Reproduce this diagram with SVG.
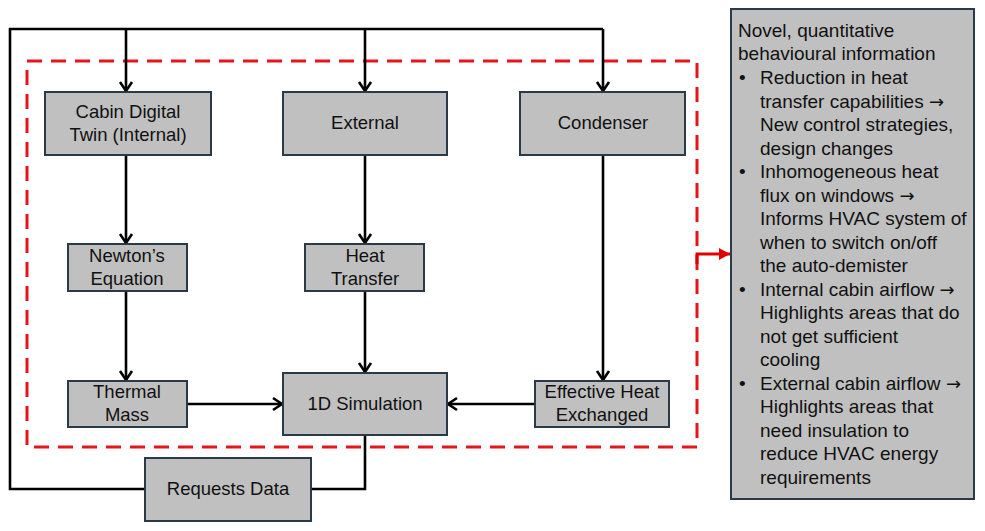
<svg xmlns="http://www.w3.org/2000/svg" width="985" height="531" viewBox="0 0 985 531">
<style>
.box{fill:#c0c0c0;stroke:#2b3a48;stroke-width:2}
.t{font-family:"Liberation Sans",Arial,sans-serif;font-size:18.5px;fill:#111;text-anchor:middle}
.r{font-family:"Liberation Sans",Arial,sans-serif;font-size:19px;fill:#111}
.a{font-family:"DejaVu Sans",sans-serif;font-size:18px}
.ln{fill:none;stroke:#000;stroke-width:2.6}
</style>
<defs>
<marker id="ah" markerUnits="userSpaceOnUse" markerWidth="16" markerHeight="16" refX="12" refY="8" orient="auto">
<polyline points="3,2 12,8 3,14" fill="none" stroke="#000" stroke-width="2.6"/>
</marker>
<marker id="rh" markerUnits="userSpaceOnUse" markerWidth="14" markerHeight="14" refX="12" refY="7" orient="auto">
<polygon points="1,1 12,7 1,13" fill="#e00000"/>
</marker>
</defs>
<rect x="27" y="61" width="670" height="386" fill="none" stroke="#e8141a" stroke-width="3" stroke-dasharray="15 9"/>
<g id="connectors">
<polyline class="ln" points="145,489 10,489 10,29 603,29"/>
<line class="ln" x1="126" y1="29" x2="126" y2="91" marker-end="url(#ah)"/>
<line class="ln" x1="365" y1="29" x2="365" y2="91" marker-end="url(#ah)"/>
<line class="ln" x1="603" y1="29" x2="603" y2="91" marker-end="url(#ah)"/>
<line class="ln" x1="126" y1="155" x2="126" y2="243" marker-end="url(#ah)"/>
<line class="ln" x1="365" y1="155" x2="365" y2="243" marker-end="url(#ah)"/>
<line class="ln" x1="126" y1="291" x2="126" y2="380" marker-end="url(#ah)"/>
<line class="ln" x1="365" y1="291" x2="365" y2="372" marker-end="url(#ah)"/>
<line class="ln" x1="603" y1="155" x2="603" y2="380" marker-end="url(#ah)"/>
<line class="ln" x1="187" y1="404" x2="282" y2="404" marker-end="url(#ah)"/>
<line class="ln" x1="535" y1="404" x2="448" y2="404" marker-end="url(#ah)"/>
<polyline class="ln" points="365,435 365,489 311,489"/>
<polyline points="697,264 697,254 730,254" fill="none" stroke="#e00000" stroke-width="3" marker-end="url(#rh)"/>
</g>
<g id="cabin"><rect class="box" x="45" y="92" width="166" height="63"/><text class="t" x="128" y="118">Cabin Digital</text><text class="t" x="128" y="141">Twin (Internal)</text></g>
<g id="external"><rect class="box" x="283" y="92" width="164" height="63"/><text class="t" x="365" y="129">External</text></g>
<g id="condenser"><rect class="box" x="520" y="92" width="165" height="63"/><text class="t" x="603" y="129">Condenser</text></g>
<g id="newton"><rect class="box" x="68" y="244" width="119" height="47"/><text class="t" x="127" y="262">Newton’s</text><text class="t" x="127" y="285">Equation</text></g>
<g id="heat"><rect class="box" x="305" y="244" width="119" height="47"/><text class="t" x="365" y="262">Heat</text><text class="t" x="365" y="285">Transfer</text></g>
<g id="thermal"><rect class="box" x="68" y="381" width="119" height="46"/><text class="t" x="127" y="398">Thermal</text><text class="t" x="127" y="421">Mass</text></g>
<g id="sim"><rect class="box" x="283" y="373" width="164" height="62"/><text class="t" x="365" y="410">1D Simulation</text></g>
<g id="effective"><rect class="box" x="535" y="381" width="134" height="46"/><text class="t" x="602" y="398">Effective Heat</text><text class="t" x="602" y="421">Exchanged</text></g>
<g id="requests"><rect class="box" x="145" y="458" width="166" height="63"/><text class="t" x="228" y="495">Requests Data</text></g>
<g id="info">
<rect class="box" x="731" y="9" width="243" height="490"/>
<text class="r" x="738" y="37">Novel, quantitative</text>
<text class="r" x="738" y="60">behavioural information</text>
<text class="r" x="739" y="84">•</text><text class="r" x="760" y="84">Reduction in heat</text>
<text class="r" x="760" y="108">transfer capabilities <tspan class="a">→</tspan></text>
<text class="r" x="760" y="131">New control strategies,</text>
<text class="r" x="760" y="155">design changes</text>
<text class="r" x="739" y="178">•</text><text class="r" x="760" y="178">Inhomogeneous heat</text>
<text class="r" x="760" y="202">flux on windows <tspan class="a">→</tspan></text>
<text class="r" x="760" y="225">Informs HVAC system of</text>
<text class="r" x="760" y="249">when to switch on/off</text>
<text class="r" x="760" y="272">the auto-demister</text>
<text class="r" x="739" y="296">•</text><text class="r" x="760" y="296">Internal cabin airflow <tspan class="a">→</tspan></text>
<text class="r" x="760" y="319">Highlights areas that do</text>
<text class="r" x="760" y="343">not get sufficient</text>
<text class="r" x="760" y="366">cooling</text>
<text class="r" x="739" y="390">•</text><text class="r" x="760" y="390">External cabin airflow <tspan class="a">→</tspan></text>
<text class="r" x="760" y="413">Highlights areas that</text>
<text class="r" x="760" y="437">need insulation to</text>
<text class="r" x="760" y="460">reduce HVAC energy</text>
<text class="r" x="760" y="484">requirements</text>
</g>
</svg>
